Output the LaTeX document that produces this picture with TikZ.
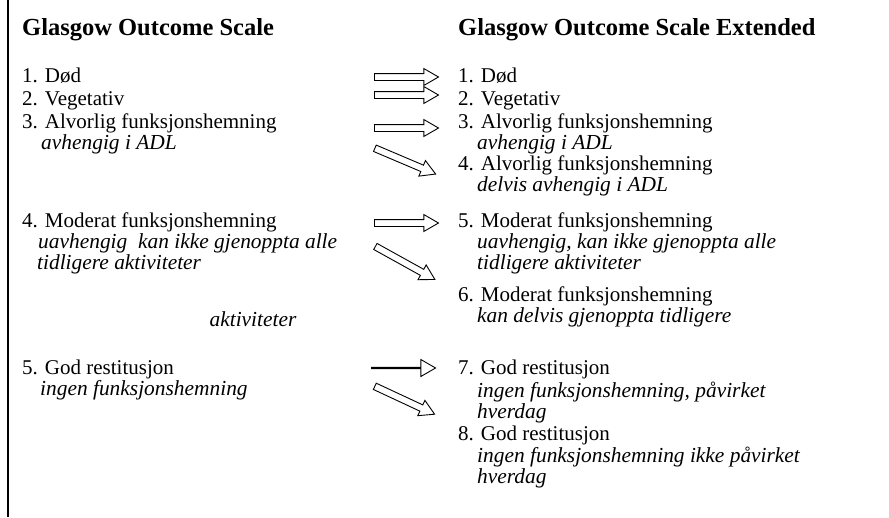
\documentclass[tikz,border=0pt]{standalone}
\usepackage{fontspec}
\setmainfont{Liberation Serif}
\usetikzlibrary{shapes.arrows}
\begin{document}
\begin{tikzpicture}[x=1pt,y=-1pt,
  txt/.style={anchor=base west, inner sep=0pt, font=\fontsize{21}{23}\selectfont},
  sub/.style={anchor=base west, inner sep=0pt, font=\fontsize{21.4}{23}\selectfont\itshape},
  ttl/.style={anchor=base west, inner sep=0pt, font=\fontsize{24.5}{26}\selectfont\bfseries},
  barrow/.style={single arrow, draw, line width=0.9pt, inner xsep=0pt, inner ysep=3pt,
    minimum height=64pt, single arrow head extend=5pt,
    single arrow tip angle=60},
  thinarrow/.style={barrow, inner ysep=0.2pt, single arrow head extend=7.8pt}]
\useasboundingbox (0,0) rectangle (889,517);
\draw[line width=1.6pt] (8,0) coordinate (lt) -- (8,517) coordinate (lb);
% titles
\node[ttl] (t1) at (22,35) {Glasgow Outcome Scale};
\node[ttl] (t2) at (458,35) {Glasgow Outcome Scale Extended};
% left column
\node[txt] (l1) at (22,82) {1. Død};
\node[txt] (l2) at (22,105.5) {2. Vegetativ};
\node[txt] (l3) at (22,128) {3. Alvorlig funksjonshemning};
\node[sub] (l3s) at (41,149.5) {avhengig i ADL};
\node[txt] (l4) at (22,227) {4. Moderat funksjonshemning};
\node[sub] (l4s) at (38,248.5) {uavhengig\ \ kan ikke gjenoppta alle};
\node[sub] (l4t) at (37,269.5) {tidligere aktiviteter};
\node[sub,anchor=base] (lak) at (253,326) {aktiviteter};
\node[txt] (l5) at (22,374) {5. God restitusjon};
\node[sub] (l5s) at (40,395.5) {ingen funksjonshemning};
% right column
\node[txt] (r1) at (458,82) {1. Død};
\node[txt] (r2) at (458,105.5) {2. Vegetativ};
\node[txt] (r3) at (458,128) {3. Alvorlig funksjonshemning};
\node[sub] (r3s) at (477,149.5) {avhengig i ADL};
\node[txt] (r4) at (458,170) {4. Alvorlig funksjonshemning};
\node[sub] (r4s) at (477,191) {delvis avhengig i ADL};
\node[txt] (r5) at (458,227) {5. Moderat funksjonshemning};
\node[sub] (r5s) at (477,248.5) {uavhengig, kan ikke gjenoppta alle};
\node[sub] (r5t) at (477,269.5) {tidligere aktiviteter};
\node[txt] (r6) at (458,301) {6. Moderat funksjonshemning};
\node[sub] (r6s) at (477,322.5) {kan delvis gjenoppta tidligere};
\node[txt] (r7) at (458,374) {7. God restitusjon};
\node[sub] (r7s) at (477,397.5) {ingen funksjonshemning, påvirket};
\node[sub] (r7t) at (477,418) {hverdag};
\node[txt] (r8) at (458,440) {8. God restitusjon};
\node[sub] (r8s) at (477,462.5) {ingen funksjonshemning ikke påvirket};
\node[sub] (r8t) at (477,483.5) {hverdag};
% block arrows
\node[barrow] (a1) at (403.5,77) {};
\node[barrow] (a2) at (403.5,95) {};
\node[barrow] (a3) at (403.5,128) {};
\node[barrow, minimum height=66pt, rotate=-23] (d1) at (402.5,160) {};
\node[barrow] (a4) at (403.5,223) {};
\node[barrow, minimum height=68pt, rotate=-29] (d2) at (402.5,261.5) {};
\node[thinarrow] (a5) at (403,368) {};
\node[barrow, minimum height=66pt, rotate=-25] (d3) at (402,399) {};
\end{tikzpicture}
\end{document}
